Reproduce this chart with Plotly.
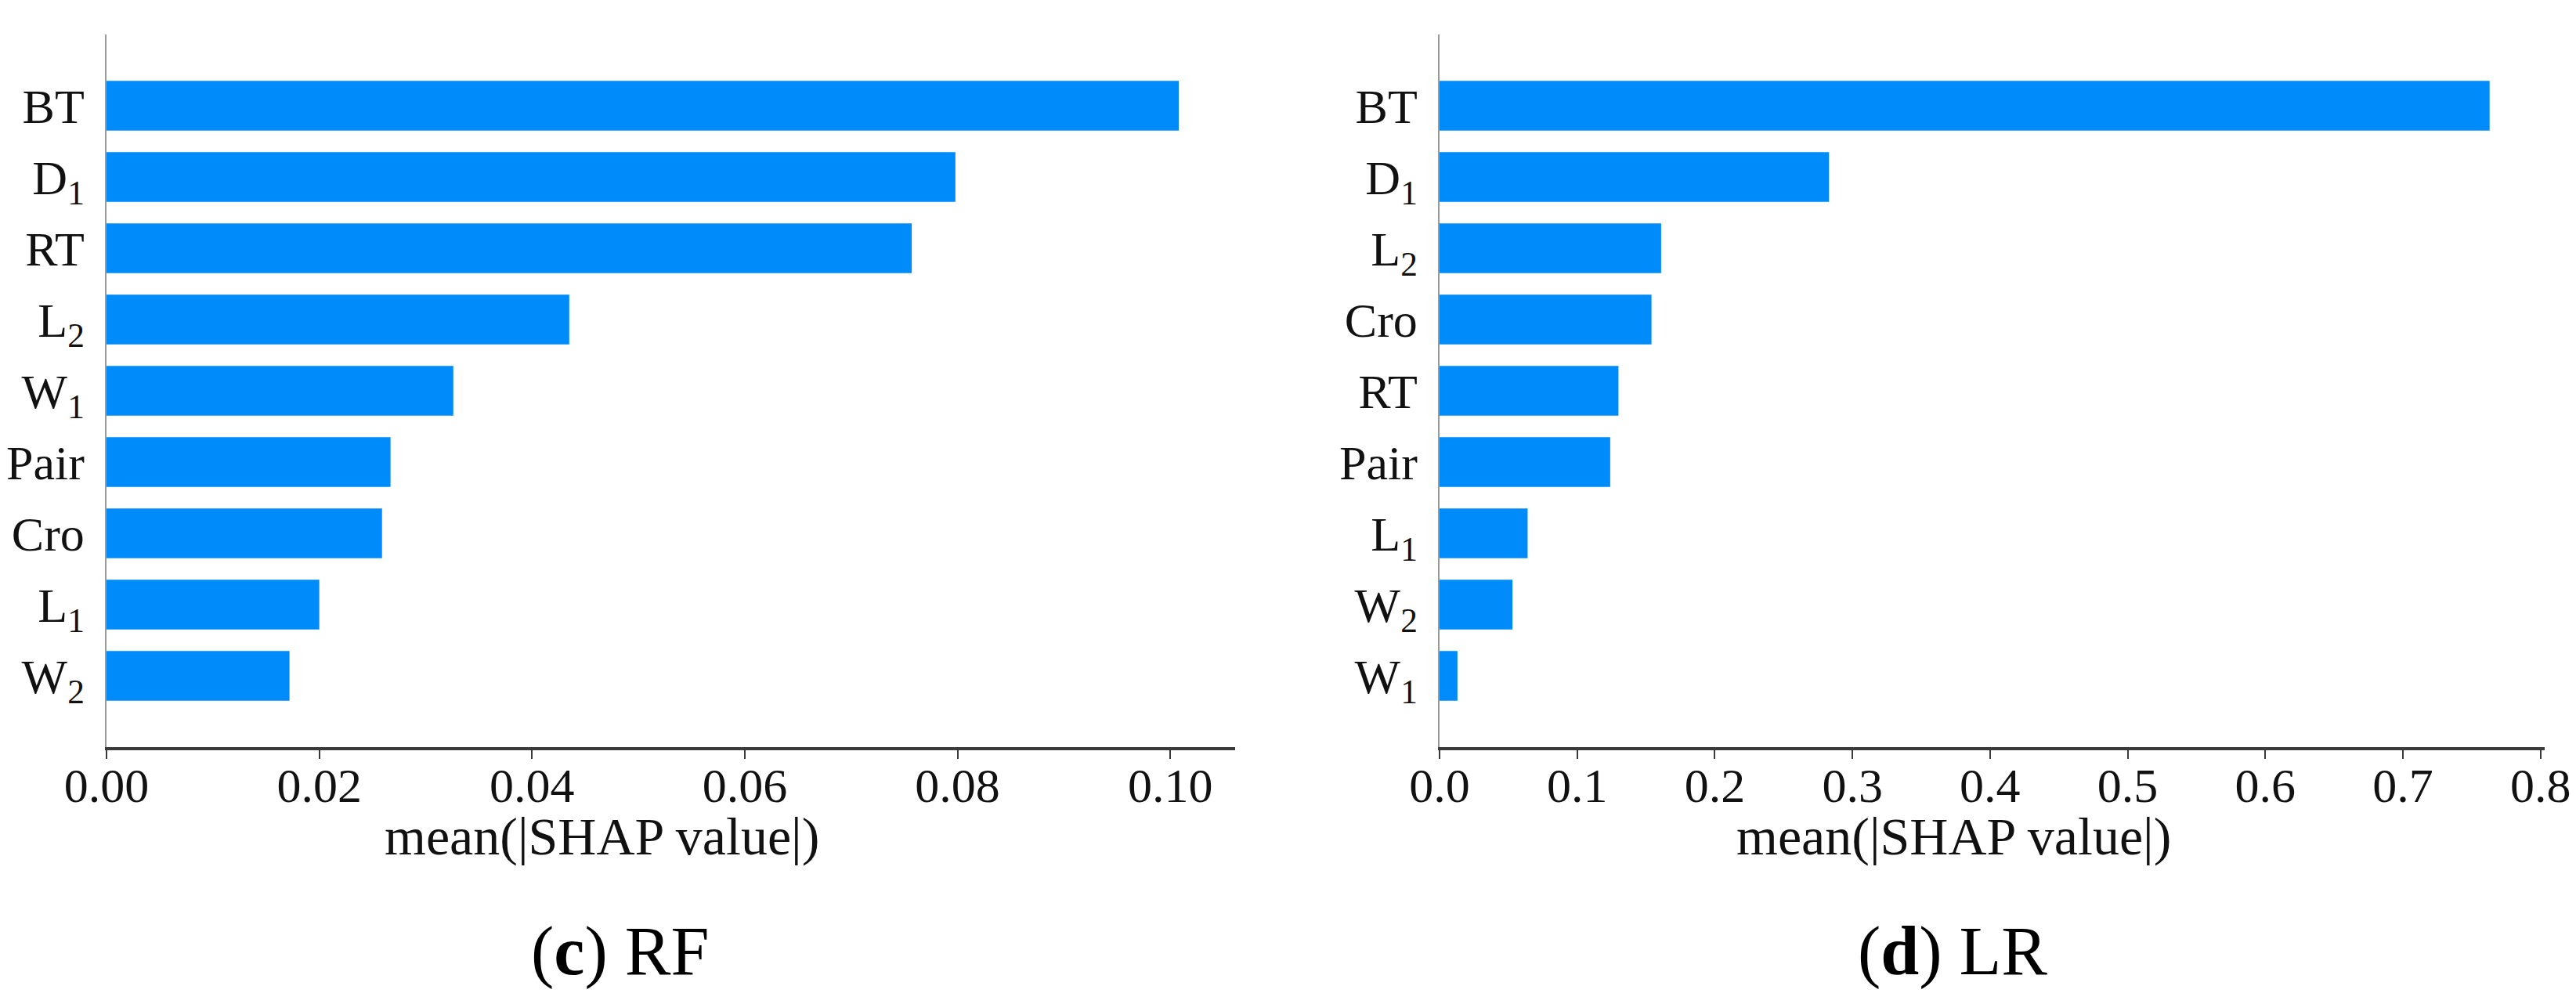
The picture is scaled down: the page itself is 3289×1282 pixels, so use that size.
import plotly.graph_objects as go

W, H = 3289, 1282

# ---- data ----
rf_features = ["BT", "D<sub>1</sub>", "RT", "L<sub>2</sub>", "W<sub>1</sub>", "Pair", "Cro", "L<sub>1</sub>", "W<sub>2</sub>"]
rf_values = [0.1008, 0.0798, 0.0757, 0.0435, 0.0326, 0.0267, 0.0259, 0.0200, 0.0172]

lr_features = ["BT", "D<sub>1</sub>", "L<sub>2</sub>", "Cro", "RT", "Pair", "L<sub>1</sub>", "W<sub>2</sub>", "W<sub>1</sub>"]
lr_values = [0.763, 0.283, 0.161, 0.154, 0.130, 0.124, 0.064, 0.053, 0.013]

x_title = "mean(|SHAP value|)"
captions = ["(<b>c</b>) RF", "(<b>d</b>) LR"]

BLUE = "#008BFB"
FONT = "Liberation Serif"

def px_x(p):
    return p / W

def px_y(p):
    return 1 - p / H

fig = go.Figure()
fig.add_trace(go.Bar(x=rf_values, y=rf_features, orientation="h", width=0.7,
                     marker=dict(color=BLUE, line=dict(width=0)),
                     xaxis="x", yaxis="y", showlegend=False))
fig.add_trace(go.Bar(x=lr_values, y=lr_features, orientation="h", width=0.7,
                     marker=dict(color=BLUE, line=dict(width=0)),
                     xaxis="x2", yaxis="y2", showlegend=False))

ydom = [px_y(954), px_y(44)]

def xaxis_cfg(dom, rng, dtick, fmt):
    return dict(domain=dom, range=rng, dtick=dtick, tick0=0, tickformat=fmt,
                automargin=False,
                showline=True, linecolor="#3a3a3a", linewidth=3.5,
                ticks="outside", ticklen=11, tickwidth=2, tickcolor="#3a3a3a",
                ticklabelstandoff=-19,
                showgrid=False, zeroline=False,
                tickfont=dict(family=FONT, size=62, color="#111"),
                fixedrange=True)

def yaxis_cfg(dom, anchor):
    return dict(domain=dom, anchor=anchor, type="category", range=[9, -1],
                automargin=False,
                showline=True, linecolor="#999999", linewidth=1.5,
                ticks="", showgrid=False, zeroline=False,
                ticklabelstandoff=14,
                tickfont=dict(family=FONT, size=62, color="#111"),
                fixedrange=True)

fig.update_layout(
    width=W, height=H,
    margin=dict(l=0, r=0, t=0, b=0, autoexpand=False),
    paper_bgcolor="white", plot_bgcolor="white",
    bargap=0.3,
    xaxis=xaxis_cfg([px_x(136), px_x(1577)], [0, 0.1061], 0.02, ".2f") | dict(anchor="y"),
    yaxis=yaxis_cfg(ydom, "x"),
    xaxis2=xaxis_cfg([px_x(1838), px_x(3249)], [0, 0.803], 0.1, ".1f") | dict(anchor="y2"),
    yaxis2=yaxis_cfg(ydom, "x2"),
)

annotations = []
for cx in [768, 2494]:
    annotations.append(dict(text=x_title, x=px_x(cx), y=px_y(1068), xref="paper", yref="paper",
                            xanchor="center", yanchor="middle", showarrow=False,
                            font=dict(family=FONT, size=68, color="#111")))
for cap, cap_x in zip(captions, [791, 2493]):
    annotations.append(dict(text=cap, x=px_x(cap_x), y=px_y(1214), xref="paper", yref="paper",
                            xanchor="center", yanchor="middle", showarrow=False,
                            font=dict(family=FONT, size=88, color="#000")))
fig.update_layout(annotations=annotations)

fig.write_html("out.html", config={"displayModeBar": False},
               post_script="document.body.style.margin='0';document.body.style.overflow='hidden';")
